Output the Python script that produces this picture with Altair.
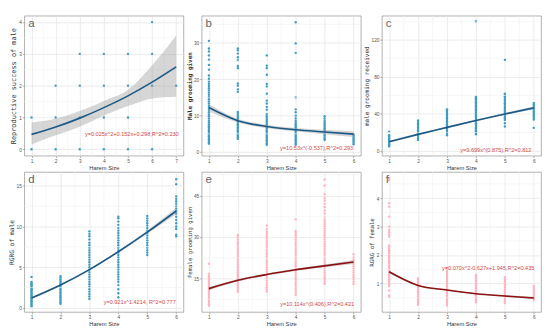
import altair as alt
import pandas as pd

# ---------------- data ----------------
# a: reproductive success of male
a_h1 = [0, 1]
a_h2 = [0, 1, 2]
a_h3 = [0, 1, 2, 3]
a_h4 = [0, 1, 2, 3]
a_h5 = [0, 1, 2, 3]
a_h6 = [0, 2, 3, 4]
a_h7 = [2]
a_fx = [1, 2, 3, 4, 5, 6, 7]
a_fit = [0.47, 0.70, 0.98, 1.31, 1.68, 2.11, 2.59]
a_lo = [0.15, 0.44, 0.71, 1.06, 1.36, 1.60, 1.65]
a_hi = [0.84, 0.96, 1.20, 1.52, 1.87, 2.64, 3.58]

# b: male grooming given
b_h1 = [2.3, 2.7, 3.1, 3.5, 3.9, 4.3, 4.7, 5.1, 5.5, 5.9, 6.3, 6.7, 7.1, 7.6, 8.1, 8.6, 9.2, 9.8,
        10.3, 10.9, 11.5, 12.1, 12.7, 13.3, 13.9, 14.5, 15.1, 15.7, 16.3, 16.9, 17.5, 18.1, 18.7,
        19.3, 20.1, 21.0, 22.6, 23.9, 25.3, 26.5, 27.6, 28.4, 30.5]
b_h2 = [3.6, 4.0, 4.4, 4.8, 5.2, 5.6, 6.0, 6.4, 6.8, 7.2, 7.6, 8.0, 8.4, 8.8, 9.2, 9.6, 10.0, 10.5,
        11.0, 16.5, 17.2, 18.2, 18.8, 23.0, 23.6, 25.2, 26.0, 27.0, 27.9, 28.4]
b_h3 = [2.0, 2.4, 2.8, 3.2, 3.6, 4.0, 4.4, 4.8, 5.2, 5.6, 6.0, 6.4, 6.8, 7.2, 7.6, 8.0, 8.4, 8.8,
        9.3, 9.8, 10.4, 11.6, 12.4, 13.3, 14.1, 16.0, 18.0, 18.7, 21.2, 23.0, 23.7, 26.5]
b_h4 = [2.0, 2.4, 2.8, 3.2, 3.6, 4.0, 4.4, 4.8, 5.2, 5.6, 6.0, 6.4, 6.8, 7.2, 7.6, 8.0, 8.5, 9.2,
        10.0, 10.9, 11.7, 15.0, 27.2, 29.8, 35.6]
b_h5 = [3.3, 3.7, 4.1, 4.5, 4.9, 5.3, 5.7, 6.1, 6.5, 6.9, 7.3, 7.7, 8.1, 8.6, 9.2, 9.8]
b_h6 = [2.1, 2.5, 2.9, 3.3, 3.7, 4.1, 4.5, 4.9]
b_fx = [1, 2, 3, 4, 5, 6]
b_fit = [12.2, 8.6, 7.0, 6.1, 5.5, 4.9]
b_lo = [11.2, 8.1, 6.5, 5.6, 4.9, 4.1]
b_hi = [13.2, 9.1, 7.5, 6.6, 6.1, 5.7]

# c: male grooming received
c_h1 = [5.0, 6.2, 7.4, 8.6, 9.8, 11.0, 12.2, 13.4, 14.6, 15.8, 17.0, 21.0]
c_h2 = [12.0, 13.5, 15.0, 16.5, 18.0, 19.5, 21.0, 22.5, 24.0, 25.5, 27.0, 28.5, 30.0, 31.5, 33.0]
c_h3 = [17.0, 18.5, 20.0, 21.5, 23.0, 24.5, 26.0, 27.5, 29.0, 30.5, 32.0, 33.5, 35.0, 36.5, 38.0,
        39.5, 41.0, 42.5, 44.0, 45.0]
c_h4 = [18.0, 19.5, 21.0, 22.5, 24.0, 25.5, 27.0, 28.5, 30.0, 31.5, 33.0, 34.5, 36.0, 37.5, 39.0,
        40.5, 42.0, 43.5, 45.0, 46.5, 48.0, 49.5, 51.0, 52.5, 54.0, 55.5, 57.0, 58.5, 140.0]
c_h5 = [26.5, 30.0, 33.5, 35.0, 36.5, 38.0, 39.5, 41.0, 42.5, 44.0, 45.5, 47.0, 48.5, 50.0, 51.5,
        53.0, 54.5, 56.0, 57.5, 59.0, 61.0, 62.0, 98.5]
c_h6 = [25.0, 34.0, 35.5, 37.0, 38.5, 40.0, 41.5, 43.0, 44.5, 46.0, 47.5, 49.0, 50.5, 52.0]
c_fx = [1, 2, 3, 4, 5, 6]
c_fit = [10.0, 18.0, 25.5, 33.0, 40.0, 46.5]
c_lo = [8.8, 17.2, 24.8, 32.2, 38.9, 45.0]
c_hi = [11.2, 18.8, 26.2, 33.8, 41.1, 48.0]

# d: RGRG of male
d_h1 = [0.2, 0.35, 0.5, 0.65, 0.8, 0.95, 1.1, 1.25, 1.4, 1.55, 1.7, 1.85, 2.0, 2.15, 2.3, 2.45,
        2.6, 2.75, 2.9, 3.05, 3.2, 3.8]
d_h2 = [0.5, 0.7, 0.9, 1.1, 1.3, 1.5, 1.7, 1.9, 2.1, 2.3, 2.5, 2.7, 2.9, 3.1, 3.3, 3.5, 3.7, 3.9]
d_h3 = [1.1, 1.4, 1.7, 2.0, 2.3, 2.6, 2.9, 3.2, 3.5, 3.8, 4.1, 4.4, 4.7, 5.0, 5.3, 5.6, 5.9, 6.2,
        6.5, 6.8, 7.1, 7.4, 7.7, 8.0, 8.4, 8.8, 9.1, 9.4]
d_h4 = [1.3, 1.8, 2.3, 2.8, 3.2, 3.5, 3.8, 4.1, 4.4, 4.7, 5.0, 5.3, 5.6, 5.9, 6.2, 6.5, 6.8, 7.1,
        7.4, 7.7, 8.0, 8.3, 8.6, 8.9, 9.2, 9.5, 9.8, 10.2, 10.6, 11.0, 11.2]
d_h5 = [6.5, 6.8, 7.1, 7.4, 7.7, 8.0, 8.3, 8.6, 8.9, 9.2, 9.5, 9.8, 10.1, 10.4, 10.7, 11.0, 11.3]
d_h6 = [8.8, 9.0, 9.7, 10.0, 10.4, 10.8, 11.2, 11.6, 11.9, 12.2, 12.5, 12.8, 13.1, 13.4, 13.7,
        15.2, 15.8]
d_fx = [1, 2, 3, 4, 5, 6]
d_fit = [1.2, 2.8, 4.7, 6.9, 9.3, 11.9]
d_lo = [1.05, 2.7, 4.6, 6.8, 9.1, 11.5]
d_hi = [1.35, 2.9, 4.8, 7.0, 9.5, 12.3]

# e: female grooming given
e_h1 = [5.2, 5.8, 6.4, 7.0, 7.6, 8.2, 8.8, 9.4, 10.0, 10.6, 11.2, 11.8, 12.4, 13.0, 13.6, 14.2,
        14.8, 15.4, 16.0, 16.8, 20.4]
e_h2 = [10.3, 11.0, 11.7, 12.4, 13.1, 13.8, 14.5, 15.2, 15.9, 16.6, 17.3, 18.0, 18.7, 19.4, 20.1,
        20.8, 21.5, 22.2, 22.9, 23.6, 24.3, 25.0, 25.8, 26.6, 27.5, 28.3, 29.1, 30.0, 30.8]
e_h3 = [10.3, 11.1, 11.9, 12.7, 13.5, 14.3, 15.1, 15.9, 16.7, 17.5, 18.3, 19.1, 19.9, 20.7, 21.5,
        22.3, 23.1, 23.9, 24.7, 25.5, 26.3, 27.1, 27.9, 28.7, 29.5, 30.3, 31.1, 31.9, 32.8, 34.2]
e_h4 = [9.1, 9.9, 10.7, 11.5, 12.3, 13.1, 13.9, 14.7, 15.5, 16.3, 17.1, 17.9, 18.7, 19.5, 20.3,
        21.1, 21.9, 22.7, 23.5, 24.3, 25.1, 25.9, 26.7, 27.5, 28.3, 29.1, 29.9, 30.7, 31.5, 32.2,
        36.4]
e_h5 = [13.1, 13.9, 14.7, 15.5, 16.3, 17.1, 17.9, 18.7, 19.5, 20.3, 21.1, 21.9, 22.7, 23.5, 24.3,
        25.1, 25.9, 26.7, 27.5, 28.3, 29.1, 29.9, 30.7, 31.5, 32.3, 33.1, 33.9, 34.7, 35.5, 36.3,
        37.3, 38.5, 39.6, 40.8, 42.0, 43.2, 44.1, 45.5, 48.6, 50.8]
e_h6 = [13.1, 13.9, 14.7, 15.5, 16.3, 17.1, 17.9, 18.7, 19.5, 20.3, 21.1, 21.9, 22.7, 23.8]
e_fx = [1, 2, 3, 4, 5, 6]
e_fit = [11.4, 14.4, 16.5, 18.2, 19.6, 21.0]
e_lo = [10.8, 14.0, 16.1, 17.8, 19.1, 20.3]
e_hi = [12.0, 14.8, 16.9, 18.6, 20.1, 21.7]

# f: RGRG of female
f_h1 = [0.53, 0.58, 0.75, 0.91, 0.97, 1.03, 1.09, 1.15, 1.21, 1.27, 1.33, 1.39, 1.45, 1.51, 1.57,
        1.63, 1.69, 1.75, 1.81, 1.87, 1.93, 1.99, 2.05, 2.11, 2.17, 2.23, 2.29, 2.34, 2.65, 2.72,
        2.80, 2.88, 3.0, 3.35, 3.70, 3.82, 4.63, 4.70]
f_h2 = [0.25, 0.31, 0.37, 0.43, 0.49, 0.55, 0.61, 0.67, 0.73, 0.79, 0.85, 0.91, 0.97, 1.03, 1.09,
        1.15, 1.19]
f_h3 = [0.23, 0.29, 0.35, 0.41, 0.47, 0.53, 0.59, 0.65, 0.71, 0.77, 0.83, 0.89, 0.95, 1.01, 1.07,
        1.13, 1.19, 1.25, 1.31, 1.37, 1.43, 1.49, 1.55]
f_h4 = [0.34, 0.40, 0.46, 0.52, 0.58, 0.64, 0.70, 0.76, 0.82, 0.88, 0.94, 1.00, 1.06, 1.12, 1.18,
        1.24, 1.30]
f_h5 = [0.31, 0.37, 0.43, 0.49, 0.55, 0.61, 0.67, 0.73, 0.79, 0.85, 0.91, 0.97, 1.03, 1.09, 1.15,
        1.22]
f_h6 = [0.42, 0.48, 0.54, 0.60, 0.66, 0.72, 0.78, 0.84, 0.91]
f_fx = [1, 2, 3, 4, 5, 6]
f_fit = [1.41, 0.93, 0.77, 0.64, 0.56, 0.49]
f_lo = [1.36, 0.91, 0.75, 0.62, 0.53, 0.45]
f_hi = [1.46, 0.95, 0.79, 0.66, 0.59, 0.53]

# text
eq_a = "y=0.025x^2+0.152x+0.298,R^2=0.230"
eq_b = "y=10.53x^(-0.537),R^2=0.293"
eq_c = "y=9.699x^(0.875),R^2=0.812"
eq_d = "y=0.921x^1.4214, R^2=0.777"
eq_e = "y=10.114x^(0.406),R^2=0.421"
eq_f = "y=0.070x^2-0.627x+1.945,R^2=0.435"

title_a = "Reproductive success of male"
title_b = "Male grooming given"
title_c = "male grooming received"
title_d = "RGRG of male"
title_e = "Female grooming given"
title_f = "RGRG of female"
x_title = "Harem Size"

# tick labels (major) and minor grid positions
xt7 = [1, 2, 3, 4, 5, 6, 7]
xm7 = [1.5, 2.5, 3.5, 4.5, 5.5, 6.5]
xt6 = [1, 2, 3, 4, 5, 6]
xm6 = [1.5, 2.5, 3.5, 4.5, 5.5]
yt_a, ym_a = [0, 1, 2, 3, 4], [0.5, 1.5, 2.5, 3.5]
yt_b, ym_b = [0, 10, 20, 30], [5, 15, 25, 35]
yt_c, ym_c = [0, 40, 80, 120], [20, 60, 100, 140]
yt_d, ym_d = [0, 5, 10, 15], [2.5, 7.5, 12.5]
yt_e, ym_e = [15, 30, 45], [7.5, 22.5, 37.5, 52.5]
yt_f, ym_f = [1, 2, 3, 4], [0.5, 1.5, 2.5, 3.5, 4.5]

# ---------------- style ----------------
W, H = 166, 146
BLUE_PT = "#3e9cc2"
BLUE_LN = "#1c5a86"
PINK_PT = "#ffb3c0"
RED_LN = "#8a1212"
EQ_COL = "#d24a4a"
MINOR = "#f1f1f1"


def strips(lists):
    rows = []
    for h, vals in enumerate(lists, start=1):
        rows += [{"x": h, "y": v} for v in vals]
    return pd.DataFrame(rows)


def make_axis(title, majors, tfont, tsize, bold=False):
    return alt.Axis(
        title=title,
        values=majors,
        labelOverlap=False,
        grid=True,
        gridColor="#e2e2e2",
        gridWidth=0.7,
        tickSize=2,
        tickWidth=0.6,
        tickColor="#777777",
        domain=False,
        labelFont="Liberation Sans",
        labelFontSize=5,
        labelColor="#555555",
        labelPadding=1,
        labelFlush=False,
        titleFont=tfont,
        titleFontSize=tsize,
        titleFontWeight="bold" if bold else "normal",
        titleColor="#333333",
        titlePadding=1.5,
    )


def panel(letter, lists, fx, fit, lo, hi, xdom, xt, xm, ydom, yt, ym, ytitle, tsize, bold,
          pt_col, ln_col, eq, eq_right, eq_bottom):
    xs = alt.Scale(domain=xdom, nice=False, zero=False)
    ys = alt.Scale(domain=ydom, nice=False, zero=False)
    xa = make_axis(x_title, xt, "Liberation Sans", 6)
    ya = make_axis(ytitle, yt, "DejaVu Sans Mono", tsize, bold)
    X = lambda f: alt.X(f, scale=xs, axis=xa, title=x_title)
    Y = lambda f: alt.Y(f, scale=ys, axis=ya, title=ytitle)
    fitdf = pd.DataFrame({"x": fx, "fit": fit, "lo": lo, "hi": hi})

    pts = alt.Chart(strips(lists)).mark_circle(size=6, opacity=1, color=pt_col).encode(
        x=X("x:Q"), y=Y("y:Q")
    )
    vmin = alt.Chart(pd.DataFrame({"x": xm})).mark_rule(color=MINOR, strokeWidth=0.6).encode(
        x=X("x:Q")
    )
    hmin = alt.Chart(pd.DataFrame({"y": ym})).mark_rule(color=MINOR, strokeWidth=0.6).encode(
        y=Y("y:Q")
    )
    lab = alt.Chart(pd.DataFrame({"t": [letter]})).mark_text(
        font="Liberation Sans", fontSize=12, color="#666666", align="left", baseline="alphabetic"
    ).encode(x=alt.value(4), y=alt.value(12), text="t:N")
    band = alt.Chart(fitdf).mark_area(color="#999999", opacity=0.4, interpolate="monotone").encode(
        x=X("x:Q"), y=Y("lo:Q"), y2="hi:Q"
    )
    line = alt.Chart(fitdf).mark_line(color=ln_col, strokeWidth=1.7, interpolate="monotone").encode(
        x=X("x:Q"), y=Y("fit:Q")
    )
    txt = alt.Chart(pd.DataFrame({"t": [eq]})).mark_text(
        font="Liberation Sans", fontSize=5.8, color=EQ_COL, align="right", baseline="middle"
    ).encode(x=alt.value(W - eq_right), y=alt.value(H - eq_bottom), text="t:N")
    return alt.layer(pts, vmin, hmin, lab, band, line, txt).properties(width=W, height=H)


pa = panel("a", [a_h1, a_h2, a_h3, a_h4, a_h5, a_h6, a_h7], a_fx, a_fit, a_lo, a_hi,
           [0.7, 7.3], xt7, xm7, [-0.2, 4.2], yt_a, ym_a, title_a, 7.2, False,
           BLUE_PT, BLUE_LN, eq_a, 5, 23)
pb = panel("b", [b_h1, b_h2, b_h3, b_h4, b_h5, b_h6], b_fx, b_fit, b_lo, b_hi,
           [0.75, 6.25], xt6, xm6, [-1.0, 37.4], yt_b, ym_b, title_b, 6.2, True,
           BLUE_PT, BLUE_LN, eq_b, 8, 8)
pc = panel("c", [c_h1, c_h2, c_h3, c_h4, c_h5, c_h6], c_fx, c_fit, c_lo, c_hi,
           [0.75, 6.25], xt6, xm6, [-5.0, 146.0], yt_c, ym_c, title_c, 6.3, False,
           BLUE_PT, BLUE_LN, eq_c, 10, 6)
pd_ = panel("d", [d_h1, d_h2, d_h3, d_h4, d_h5, d_h6], d_fx, d_fit, d_lo, d_hi,
            [0.75, 6.25], xt6, xm6, [-0.5, 16.7], yt_d, ym_d, title_d, 6.5, False,
            BLUE_PT, BLUE_LN, eq_d, 8, 10)
pe = panel("e", [e_h1, e_h2, e_h3, e_h4, e_h5, e_h6], e_fx, e_fit, e_lo, e_hi,
           [0.75, 6.25], xt6, xm6, [3.0, 53.5], yt_e, ym_e, title_e, 5.9, False,
           PINK_PT, RED_LN, eq_e, 7, 8)
pf = panel("f", [f_h1, f_h2, f_h3, f_h4, f_h5, f_h6], f_fx, f_fit, f_lo, f_hi,
           [0.75, 6.25], xt6, xm6, [0.0, 4.92], yt_f, ym_f, title_f, 6.0, False,
           PINK_PT, RED_LN, eq_f, 7, 46)

chart = alt.concat(pa, pb, pc, pd_, pe, pf, columns=3, spacing={"row": 0, "column": 1}).properties(
    padding=0
).configure_view(stroke="#9a9a9a", strokeWidth=0.8)

chart.save("out.html", embed_options={"renderer": "svg", "actions": False})
